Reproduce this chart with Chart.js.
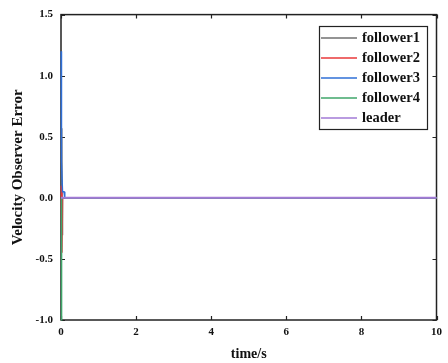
<!DOCTYPE html>
<html><head><meta charset="utf-8">
<script src="https://cdn.jsdelivr.net/npm/chart.js@4/dist/chart.umd.min.js"></script>
<style>html,body{margin:0;padding:0;background:#fff}#wrap{width:448px;height:363px}</style>
</head><body><div id="wrap"><canvas id="c" width="448" height="363"></canvas></div>
<script>
const seriesNames = ['follower1','follower2','follower3','follower4','leader'];
const follower1 = [[0.01,0.3],[0.02,0.57],[0.03,-0.3],[0.04,0],[10,0]];
const follower2 = [[0.01,0.1],[0.025,-0.45],[0.04,0],[10,0]];
const follower3 = [[0.005,1.2],[0.01,0.57],[0.015,0.3],[0.04,0.05],[0.08,0.05],[0.1,0],[10,0]];
const follower4 = [[0.005,-1.0],[0.01,-0.5],[0.02,0],[10,0]];
const leader = [[0,0],[10,0]];
const xTicks = [0,2,4,6,8,10];
const yTicks = [-1.0,-0.5,0.0,0.5,1.0,1.5];
const colors = ['#707070','#e8383a','#2f6fd6','#3fa66a','#a27ad6'];

const toPts = a => a.map(p => ({x:p[0], y:p[1]}));
const seriesData = [follower1, follower2, follower3, follower4, leader];

const frame = {
  id:'frame',
  beforeDatasetsDraw(chart){
    const ctx = chart.ctx, a = chart.chartArea;
    const xs = chart.scales.x, ys = chart.scales.y;
    ctx.save();
    ctx.strokeStyle = '#222'; ctx.lineWidth = 1.5;
    ctx.strokeRect(a.left, a.top, a.right-a.left, a.bottom-a.top);
    ctx.lineWidth = 1.2;
    const L = 4;
    xTicks.forEach(v => {
      const px = Math.round(xs.getPixelForValue(v))+0.5;
      ctx.beginPath(); ctx.moveTo(px, a.bottom); ctx.lineTo(px, a.bottom-L);
      ctx.moveTo(px, a.top); ctx.lineTo(px, a.top+L); ctx.stroke();
    });
    yTicks.forEach(v => {
      const py = Math.round(ys.getPixelForValue(v))+0.5;
      ctx.beginPath(); ctx.moveTo(a.left, py); ctx.lineTo(a.left+L, py);
      ctx.moveTo(a.right, py); ctx.lineTo(a.right-L, py); ctx.stroke();
    });
    ctx.restore();
  },
  afterDraw(chart){
    const ctx = chart.ctx;
    ctx.save();
    const bx = 319, by = 26, bw = 108, bh = 103;
    ctx.fillStyle = '#fff'; ctx.fillRect(bx, by, bw, bh);
    ctx.strokeStyle = '#222'; ctx.lineWidth = 1.2;
    ctx.strokeRect(bx+0.5, by+0.5, bw, bh);
    ctx.font = 'bold 14.5px "Liberation Serif"';
    ctx.textBaseline = 'middle'; ctx.textAlign = 'left';
    chart.data.datasets.forEach((ds, i) => {
      const yy = by + 12 + i*20;
      ctx.strokeStyle = ds.borderColor; ctx.lineWidth = 1.5;
      ctx.beginPath(); ctx.moveTo(bx+2, yy); ctx.lineTo(bx+38, yy); ctx.stroke();
      ctx.fillStyle = '#111';
      ctx.fillText(ds.label, bx+43, yy);
    });
    ctx.restore();
  }
};

new Chart(document.getElementById('c'), {
  type:'line',
  data:{datasets: seriesNames.map((n,i)=>({
    label:n, data:toPts(seriesData[i]), borderColor:colors[i], backgroundColor:colors[i],
    borderWidth: i===4 ? 2 : 1.5, pointRadius:0, tension:0, fill:false, order: 5-i, clip:false
  }))},
  options:{
    responsive:false, animation:false,
    layout:{padding:{top:13,right:6,left:9,bottom:0}},
    plugins:{legend:{display:false}, tooltip:{enabled:false}},
    scales:{
      x:{type:'linear', min:0, max:10,
        afterBuildTicks: s => { s.ticks = xTicks.map(v=>({value:v})); },
        afterFit: s => { s.height = 43; },
        grid:{drawOnChartArea:false, drawTicks:false},
        border:{display:false},
        ticks:{padding:6, color:'#111', font:{family:'Liberation Serif', weight:'bold', size:11}, callback:v=>String(v), maxRotation:0},
        title:{display:true, text:'time/s', color:'#111', padding:{top:1,bottom:0}, font:{family:'Liberation Serif', weight:'bold', size:14}}
      },
      y:{type:'linear', min:-1, max:1.5,
        afterBuildTicks: s => { s.ticks = yTicks.map(v=>({value:v})); },
        afterFit: s => { s.width = 52; },
        grid:{drawOnChartArea:false, drawTicks:false},
        border:{display:false},
        ticks:{padding:8, color:'#111', font:{family:'Liberation Serif', weight:'bold', size:11}, callback:v=>v.toFixed(1)},
        title:{display:true, text:'Velocity Observer Error', color:'#111', padding:{top:0,bottom:4}, font:{family:'Liberation Serif', weight:'bold', size:15}}
      }
    }
  },
  plugins:[frame]
});
</script></body></html>
